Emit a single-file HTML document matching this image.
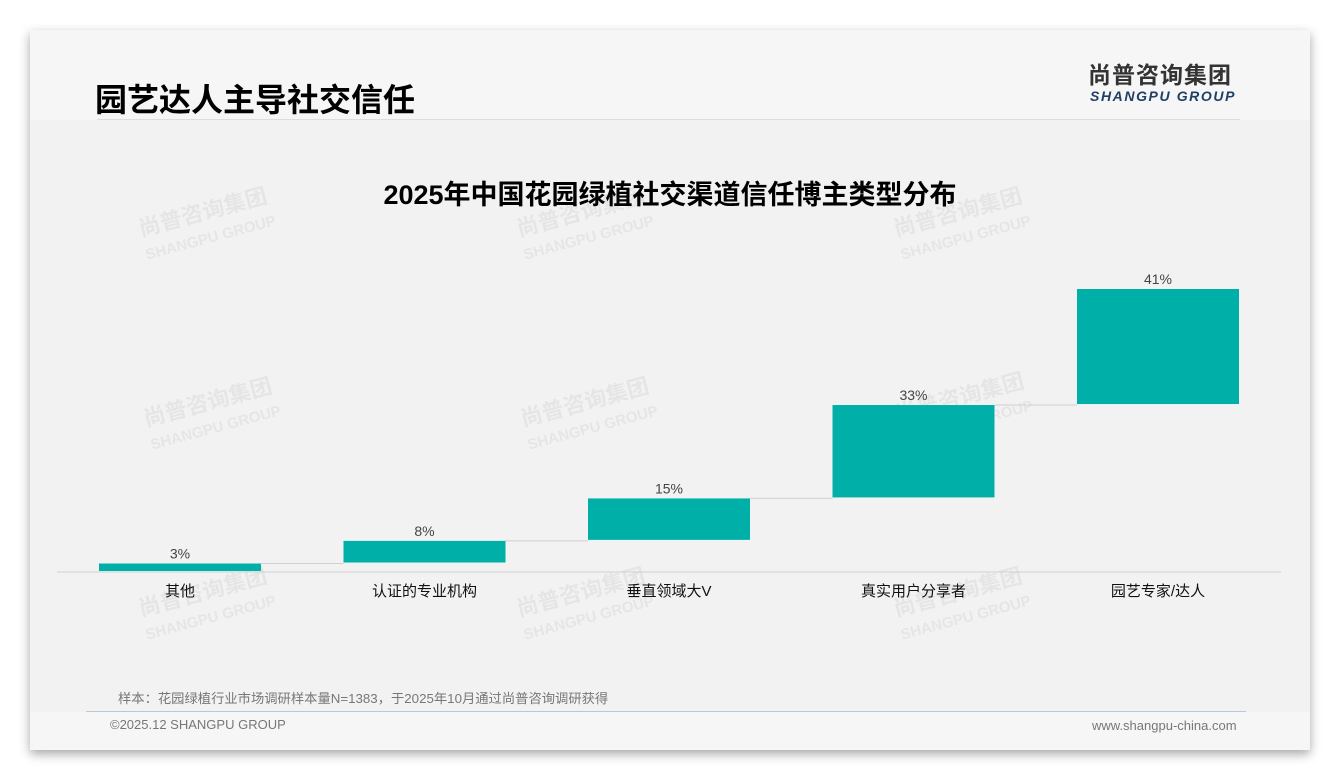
<!DOCTYPE html>
<html><head><meta charset="utf-8"><style>
body{margin:0;width:1340px;height:780px;background:#fff;position:relative;overflow:hidden;font-family:"Liberation Sans","Noto Sans CJK SC",sans-serif}
.card{position:absolute;left:30px;top:30px;width:1280px;height:720px;background:#f6f6f6;box-shadow:0 4px 10px rgba(0,0,0,.35)}
.band{position:absolute;left:30px;top:120px;width:1280px;height:592px;background:#f2f2f2}
.t{position:absolute;white-space:nowrap}
.wm{position:absolute;color:rgba(0,0,0,.05);font-weight:bold;transform:rotate(-15deg);line-height:1.1}
</style></head><body>
<div class="card"></div>
<div class="band"></div>
<div class="t" style="left:95px;top:75px;font-size:32px;font-weight:bold;color:#000">园艺达人主导社交信任</div>
<div style="position:absolute;left:97px;top:119px;width:1143px;height:1px;background:#ddd"></div>
<div class="t" style="left:1088px;top:62px;font-size:23px;line-height:26px;font-weight:bold;color:#333;letter-spacing:1px">尚普咨询集团</div>
<div class="t" style="left:1090px;top:88px;font-size:14px;font-weight:bold;font-style:italic;color:#1e3f66;letter-spacing:1.6px">SHANGPU GROUP</div>
<div class="t" style="left:0;width:1340px;text-align:center;top:173px;font-size:27px;font-weight:bold;color:#000">2025年中国花园绿植社交渠道信任博主类型分布</div>
<div class="wm" style="left:140px;top:200px;font-size:22px">尚普咨询集团<br><span style="font-size:15px">SHANGPU GROUP</span></div>
<div class="wm" style="left:518px;top:200px;font-size:22px">尚普咨询集团<br><span style="font-size:15px">SHANGPU GROUP</span></div>
<div class="wm" style="left:895px;top:200px;font-size:22px">尚普咨询集团<br><span style="font-size:15px">SHANGPU GROUP</span></div>
<div class="wm" style="left:145px;top:390px;font-size:22px">尚普咨询集团<br><span style="font-size:15px">SHANGPU GROUP</span></div>
<div class="wm" style="left:522px;top:390px;font-size:22px">尚普咨询集团<br><span style="font-size:15px">SHANGPU GROUP</span></div>
<div class="wm" style="left:897px;top:385px;font-size:22px">尚普咨询集团<br><span style="font-size:15px">SHANGPU GROUP</span></div>
<div class="wm" style="left:140px;top:580px;font-size:22px">尚普咨询集团<br><span style="font-size:15px">SHANGPU GROUP</span></div>
<div class="wm" style="left:518px;top:580px;font-size:22px">尚普咨询集团<br><span style="font-size:15px">SHANGPU GROUP</span></div>
<div class="wm" style="left:895px;top:580px;font-size:22px">尚普咨询集团<br><span style="font-size:15px">SHANGPU GROUP</span></div>
<svg id="chart" width="1340" height="780" style="position:absolute;left:0;top:0"></svg>
<div class="t" style="left:118px;top:688px;font-size:13.3px;color:#777">样本：花园绿植行业市场调研样本量N=1383，于2025年10月通过尚普咨询调研获得</div>
<div style="position:absolute;left:86px;top:711px;width:1160px;height:1px;background:#b8c8d8"></div>
<div class="t" style="left:110px;top:717px;font-size:13px;color:#777">©2025.12 SHANGPU GROUP</div>
<div class="t" style="left:1092px;top:718px;font-size:13px;color:#777">www.shangpu-china.com</div>
<script>
const categories=["其他","认证的专业机构","垂直领域大V","真实用户分享者","园艺专家/达人"];
const values=[3,8,15,33,41];
const labels=["3%","8%","15%","33%","41%"];
const NS="http://www.w3.org/2000/svg";
const svg=document.getElementById("chart");
const y0=572, k=2.83, x0=99, step=244.5, bw=162;
const y=v=>y0-v*k;
const x=i=>x0+i*step;
function mk(tag,at){const e=document.createElementNS(NS,tag);for(const a in at)e.setAttribute(a,at[a]);svg.appendChild(e);return e;}
const axis=mk("line",{x1:57,x2:1281,y1:y0,y2:y0,stroke:"#d0d0d0","stroke-width":1});


let cum=0;
values.forEach((v,i)=>{
  const top=y(cum+v), bot=y(cum);
  const r=mk("rect",{x:x(i),y:top,width:bw,height:Math.max(bot-top-1,1),fill:"#00b0a8"});
  
  
  if(i<values.length-1){
    const c=mk("line",{x1:x(i)+bw,x2:x(i+1),y1:top,y2:top,stroke:"#d0d0d0","stroke-width":1});
    
    
  }
  const t=mk("text",{x:x(i)+bw/2,y:top-5,"text-anchor":"middle","font-size":14,fill:"#444","font-family":"Liberation Sans, sans-serif"});
  t.textContent=labels[i];
  
  
  const c2=mk("text",{x:x(i)+bw/2,y:596,"text-anchor":"middle","font-size":15,fill:"#111","font-family":"Liberation Sans, Noto Sans CJK SC, sans-serif"});
  c2.textContent=categories[i];
  
  
  cum+=v;
});
</script>
</body></html>
